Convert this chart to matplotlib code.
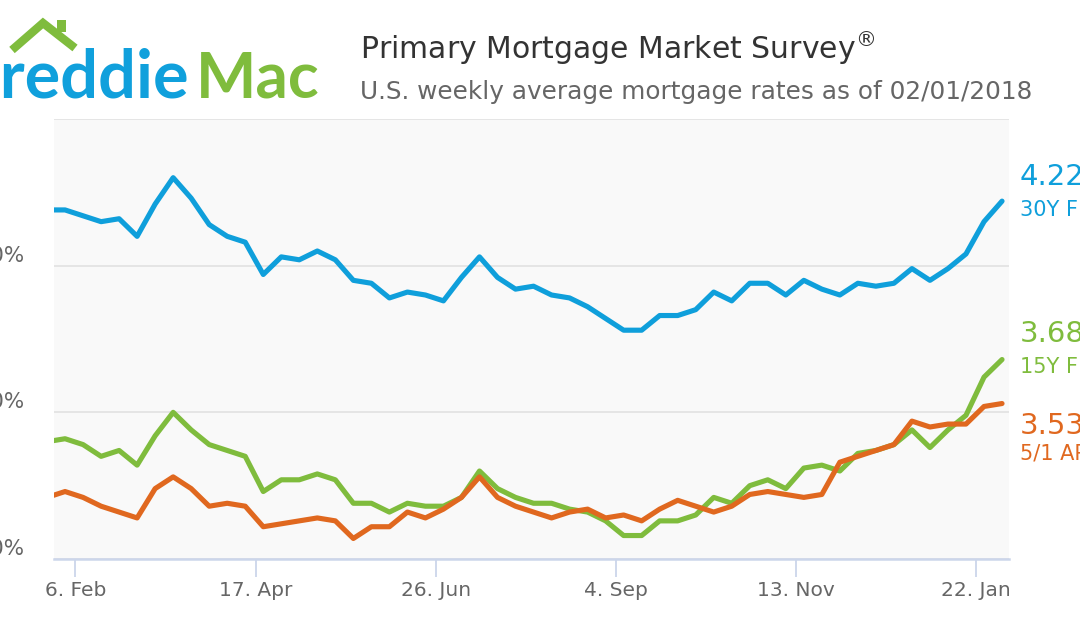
import matplotlib
matplotlib.use("Agg")
import matplotlib.pyplot as plt
import matplotlib.transforms as mtransforms
from matplotlib.lines import Line2D
from matplotlib.patches import Rectangle
import pandas as pd

# ---------------- data ----------------
first_week = "2017-01-26"
n_weeks = 54
rate_30y = [4.19, 4.19, 4.17, 4.15, 4.16, 4.10, 4.21, 4.30, 4.23, 4.14,
            4.10, 4.08, 3.97, 4.03, 4.02, 4.05, 4.02, 3.95, 3.94, 3.89,
            3.91, 3.90, 3.88, 3.96, 4.03, 3.96, 3.92, 3.93, 3.90, 3.89,
            3.86, 3.82, 3.78, 3.78, 3.83, 3.83, 3.85, 3.91, 3.88, 3.94,
            3.94, 3.90, 3.95, 3.92, 3.90, 3.94, 3.93, 3.94, 3.99, 3.95,
            3.99, 4.04, 4.15, 4.22]
rate_15y = [3.40, 3.41, 3.39, 3.35, 3.37, 3.32, 3.42, 3.50, 3.44, 3.39,
            3.37, 3.35, 3.23, 3.27, 3.27, 3.29, 3.27, 3.19, 3.19, 3.16,
            3.19, 3.18, 3.18, 3.21, 3.30, 3.24, 3.21, 3.19, 3.19, 3.17,
            3.16, 3.13, 3.08, 3.08, 3.13, 3.13, 3.15, 3.21, 3.19, 3.25,
            3.27, 3.24, 3.31, 3.32, 3.30, 3.36, 3.37, 3.39, 3.44, 3.38,
            3.44, 3.49, 3.62, 3.68]
rate_arm = [3.21, 3.23, 3.21, 3.18, 3.16, 3.14, 3.24, 3.28, 3.24, 3.18,
            3.19, 3.18, 3.11, 3.12, 3.13, 3.14, 3.13, 3.07, 3.11, 3.11,
            3.16, 3.14, 3.17, 3.21, 3.28, 3.21, 3.18, 3.16, 3.14, 3.16,
            3.17, 3.14, 3.15, 3.13, 3.17, 3.20, 3.18, 3.16, 3.18, 3.22,
            3.23, 3.22, 3.21, 3.22, 3.33, 3.35, 3.37, 3.39, 3.47, 3.45,
            3.46, 3.46, 3.52, 3.53]
series_names = ["30Y FRM", "15Y FRM", "5/1 ARM"]
series_colors = ["#0f9fdb", "#7fbc3d", "#e0681f"]
tick_dates = ["2017-02-06", "2017-04-17", "2017-06-26", "2017-09-04",
              "2017-11-13", "2018-01-22"]
tick_labels = ["6. Feb", "17. Apr", "26. Jun", "4. Sep", "13. Nov", "22. Jan"]
y_ticks = [3.0, 3.5, 4.0, 4.5]
y_tick_labels = ["3.00%", "3.50%", "4.00%", ""]

dates = pd.date_range(first_week, periods=n_weeks, freq="7D")

# ---------------- figure ----------------
W, H = 1080, 630
fig = plt.figure(figsize=(W / 100, H / 100), dpi=100)
fig.patch.set_facecolor("white")

ax_l, ax_r, ax_t, ax_b = 54, 1009, 119, 559
ax = fig.add_axes([ax_l / W, 1 - ax_b / H, (ax_r - ax_l) / W, (ax_b - ax_t) / H])
ax.set_facecolor("#f9f9f9")

for vals, col in zip([rate_30y, rate_15y, rate_arm], series_colors):
    ax.plot(dates, vals, color=col, lw=3.7, solid_joinstyle="round",
            solid_capstyle="round", zorder=3)

ax.set_xlim(pd.Timestamp("2017-01-28 17:00"), pd.Timestamp("2018-02-03 17:00"))
ax.set_ylim(3.0, 4.5)

# grid
ax.set_yticks(y_ticks)
ax.set_yticklabels(y_tick_labels)
ax.yaxis.grid(True, color="#e3e3e3", lw=1.3)
ax.set_axisbelow(True)
ax.tick_params(axis="y", length=0, pad=21, labelsize=15.5, labelcolor="#666666")
offset = mtransforms.ScaledTranslation(0, 12 / 100, fig.dpi_scale_trans)
for lab in ax.get_yticklabels():
    lab.set_transform(lab.get_transform() + offset)

ax.set_xticks(pd.to_datetime(tick_dates))
ax.set_xticklabels(tick_labels)
ax.tick_params(axis="x", length=13, width=1.3, color="#ccd6eb", pad=3,
               labelsize=14.5, labelcolor="#666666")

for s in ["top", "left", "right"]:
    ax.spines[s].set_visible(False)
ax.spines["bottom"].set_color("#ccd6eb")
ax.spines["bottom"].set_linewidth(1.8)

# end labels
blend = mtransforms.blended_transform_factory(ax.transAxes, ax.transData)
offsets = [(-24, 9), (-26, 7), (22, 50)]
for vals, name, col, (o1, o2) in zip([rate_30y, rate_15y, rate_arm],
                                     series_names, series_colors, offsets):
    last = vals[-1]
    ax.annotate(f"{last:.2f}%", xy=(1, last), xycoords=blend,
                xytext=(7.8, -o1 * 0.72), textcoords="offset points",
                ha="left", va="center", fontsize=21, color=col,
                annotation_clip=False)
    ax.annotate(name, xy=(1, last), xycoords=blend,
                xytext=(7.8, -o2 * 0.72), textcoords="offset points",
                ha="left", va="center", fontsize=15, color=col,
                annotation_clip=False)

# title
fig.text(360 / W, 1 - 48 / H, "Primary Mortgage Market Survey$^{\\circledR}$",
         fontsize=21.5, color="#333333", ha="left", va="center")
fig.text(360 / W, 1 - 92 / H, "U.S. weekly average mortgage rates as of 02/01/2018",
         fontsize=17.8, color="#666666", ha="left", va="center")

# logo
fig.text(189 / W, 1 - 97 / H, "Freddie", fontsize=48, color="#10a0dc",
         ha="right", va="baseline", family="Lato", weight="bold")
fig.text(196 / W, 1 - 97 / H, "Mac", fontsize=46, color="#7fbc3d",
         ha="left", va="baseline", family="Lato", weight="bold")
roof = Line2D([12 / W, 43 / W, 75 / W], [1 - 50 / H, 1 - 23 / H, 1 - 48 / H],
              transform=fig.transFigure, color="#7fbc3d", lw=6,
              solid_joinstyle="miter", solid_capstyle="butt")
fig.add_artist(roof)
fig.add_artist(Rectangle((57 / W, 1 - 32 / H), 9 / W, 12 / H,
                         transform=fig.transFigure, color="#7fbc3d", lw=0))

fig.savefig("out.png", dpi=100, facecolor="white")
